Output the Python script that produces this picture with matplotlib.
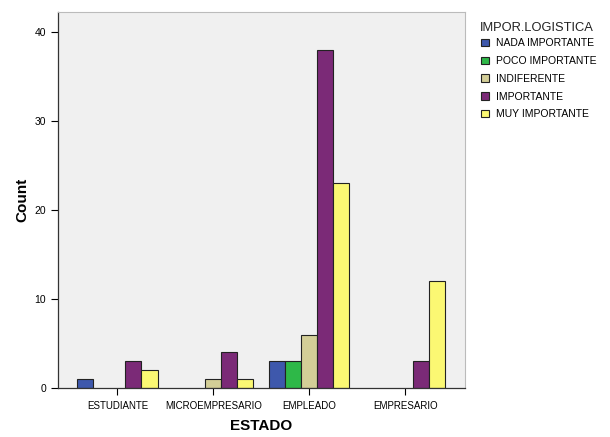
import numpy as np
import matplotlib
matplotlib.use("Agg")
import matplotlib.pyplot as plt

plt.rcParams['font.family'] = ['Liberation Sans', 'DejaVu Sans']

# categories on the x axis
estados = ['ESTUDIANTE', 'MICROEMPRESARIO', 'EMPLEADO', 'EMPRESARIO']
# legend groups
niveles = ['NADA IMPORTANTE', 'POCO IMPORTANTE', 'INDIFERENTE', 'IMPORTANTE', 'MUY IMPORTANTE']
colores = ['#3E58AC', '#2EB848', '#D3CE97', '#7B2A77', '#FBF873']

# counts per nivel, one value per estado
nada = [1, 0, 3, 0]
poco = [0, 0, 3, 0]
indiferente = [0, 1, 6, 0]
importante = [3, 4, 38, 3]
muy = [2, 1, 23, 12]
series = [nada, poco, indiferente, importante, muy]

fig = plt.figure(figsize=(6.1, 4.37), dpi=100)
ax = fig.add_axes([0.095, 0.112, 0.667, 0.861])
ax.set_facecolor('#F0F0F0')

x = np.arange(len(estados))
w = 0.167
for i, (vals, nombre, c) in enumerate(zip(series, niveles, colores)):
    xs = x + (i - 2) * w
    # zero-height bars are not drawn
    vals = np.array(vals, dtype=float)
    mask = vals > 0
    ax.bar(xs[mask], vals[mask], width=w, color=c, edgecolor='#222222', linewidth=0.8, label=nombre)

ax.set_xlim(-0.62, 3.62)
ax.set_ylim(0, 42.3)
ax.set_yticks([0, 10, 20, 30, 40])
ax.set_xticks(x)
ax.set_xticklabels(estados, fontsize=7)
ax.tick_params(axis='y', labelsize=7.5, length=5, width=0.8, direction='out')
ax.tick_params(axis='x', length=5, width=0.8, direction='out', pad=4)

for s in ['left', 'bottom']:
    ax.spines[s].set_color('#333333')
    ax.spines[s].set_linewidth(0.9)
for s in ['top', 'right']:
    ax.spines[s].set_color('#BBBBBB')
    ax.spines[s].set_linewidth(0.8)

ax.set_xlabel('ESTADO', fontsize=11, fontweight='bold', labelpad=6)
ax.set_ylabel('Count', fontsize=11, fontweight='bold', labelpad=4)

# legend title placed separately, entries below it
fig.text(0.787, 1 - 28 / 437, 'IMPOR.LOGISTICA', fontsize=9.3, va='center', ha='left', color='#222222')
handles, labels = ax.get_legend_handles_labels()
fig.legend(handles, labels, loc='upper left', bbox_to_anchor=(0.784, 0.920),
           bbox_transform=fig.transFigure, frameon=False, fontsize=7.5,
           handlelength=0.7, handleheight=0.7, handletextpad=0.7,
           labelspacing=0.75, borderpad=0.1, borderaxespad=0.2)

fig.savefig('out.png', dpi=100)
